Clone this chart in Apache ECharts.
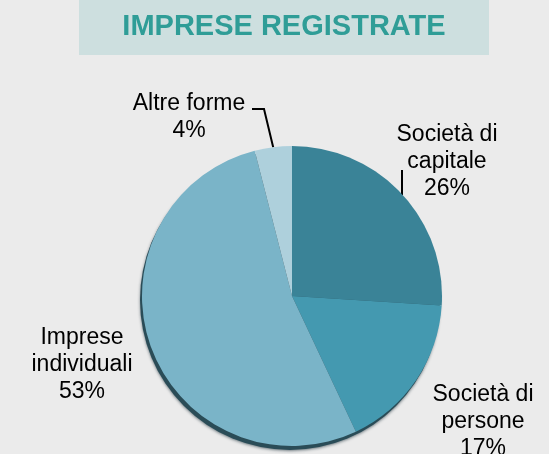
<!DOCTYPE html>
<html>
<head>
<meta charset="utf-8">
<script src="https://cdn.jsdelivr.net/npm/echarts@6/dist/echarts.min.js"></script>
<style>
  html, body { margin: 0; padding: 0; background: #ebebeb; }
  #pie-chart { width: 549px; height: 454px; }
</style>
</head>
<body>
<div id="pie-chart"></div>
<script>
  // dati
  const categories = ['Società di\ncapitale', 'Società di\npersone', 'Imprese\nindividuali', 'Altre forme']
  const percentages = [26, 17, 53, 4]
  const sliceColors = ['#3a8397', '#4499b0', '#7ab4c8', '#aed0dc']

  // posizione delle etichette (centro del blocco di testo)
  const labelSpots = [
    { x: 447, y: 162, bend: [[402, 170]] },
    { x: 483, y: 422, bend: null },
    { x: 82, y: 365, bend: null },
    { x: 189, y: 117, bend: [[264, 109], [252, 109]] }
  ]

  const total = percentages.reduce((a, b) => a + b, 0)

  const chartDom = document.getElementById('pie-chart')
  const myChart = echarts.init(chartDom)
  const option = {
    backgroundColor: '#ebebeb',
    animation: false,
    graphic: [
      {
        type: 'rect',
        shape: { x: 79, y: 0, width: 410, height: 55 },
        style: { fill: '#cddfdf' },
        silent: true
      },
      {
        type: 'text',
        style: {
          x: 284,
          y: 27,
          text: 'IMPRESE REGISTRATE',
          fill: '#2f9d97',
          font: 'bold 29px "Liberation Sans", Arial, sans-serif',
          align: 'center',
          verticalAlign: 'middle'
        },
        silent: true
      }
    ],
    series: [
      {
        // disco di base per l'ombra
        type: 'pie',
        center: [290, 300],
        radius: 150,
        silent: true,
        z: 1,
        label: { show: false },
        labelLine: { show: false },
        itemStyle: {
          shadowBlur: 3,
          shadowOffsetX: 0,
          shadowOffsetY: 1,
          shadowColor: 'rgba(30,50,60,0.6)'
        },
        data: [{ value: total, itemStyle: { color: '#2a4c57' } }]
      },
      {
        type: 'pie',
        center: [292, 296],
        radius: 150,
        startAngle: 90,
        clockwise: true,
        z: 2,
        label: {
          show: true,
          formatter: '{b}\n{c}%',
          color: '#000',
          fontSize: 23,
          lineHeight: 27,
          overflow: 'none',
          fontFamily: '"Liberation Sans", Arial, sans-serif'
        },
        labelLine: {
          show: true,
          lineStyle: { color: '#000', width: 2 }
        },
        labelLayout: function (params) {
          const spot = labelSpots[params.dataIndex]
          const res = { x: spot.x, y: spot.y, align: 'center', verticalAlign: 'middle' }
          if (spot.bend && params.labelLinePoints) {
            const start = params.labelLinePoints[0]
            if (params.dataIndex === 0) {
              res.labelLinePoints = [[402, 195], spot.bend[0]]
            } else {
              res.labelLinePoints = [start].concat(spot.bend)
            }
          } else {
            res.labelLinePoints = []
          }
          return res
        },
        emphasis: { disabled: true },
        data: categories.map((name, i) => ({
          name: name,
          value: percentages[i],
          itemStyle: { color: sliceColors[i] },
          labelLine: { show: labelSpots[i].bend !== null }
        }))
      }
    ]
  }
  myChart.setOption(option)
</script>
</body>
</html>
